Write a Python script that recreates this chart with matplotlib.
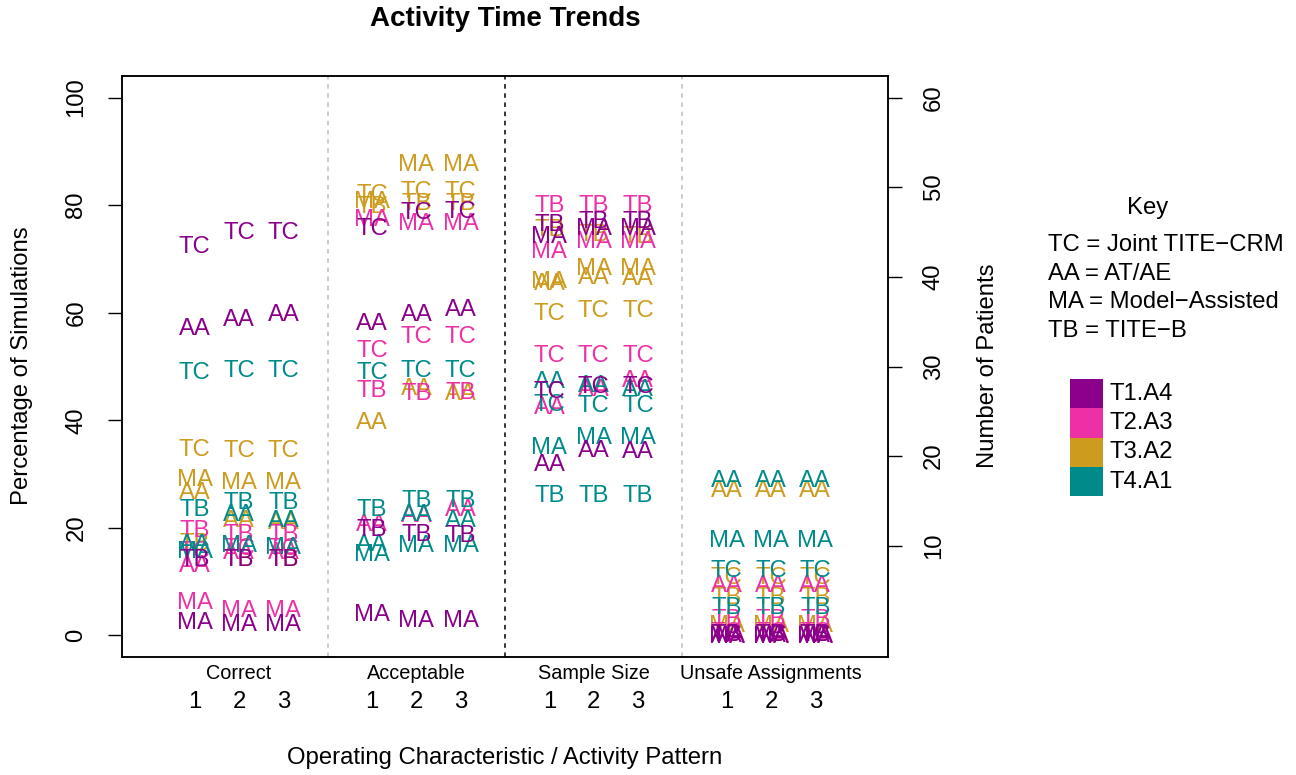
import matplotlib
matplotlib.use("Agg")
import matplotlib.pyplot as plt
from matplotlib.patches import Rectangle

plt.rcParams['font.family'] = ['Liberation Sans', 'DejaVu Sans']

# ---- data ----
methods = ["TC", "AA", "MA", "TB"]
scenarios = ["T1.A4", "T2.A3", "T3.A2", "T4.A1"]
scen_colors = ["#8B008B", "#EE30A7", "#CD9B1D", "#008B8B"]
characteristics = ["Correct", "Acceptable", "Sample Size", "Unsafe Assignments"]
patterns = [1, 2, 3]

# Correct (% of simulations), rows = TC, AA, MA, TB ; columns = pattern 1..3
correct_T1 = [[72.6, 75.2, 75.2], [57.4, 59.2, 60.0], [2.8, 2.4, 2.4], [14.5, 14.5, 14.5]]
correct_T2 = [[16.0, 16.5, 16.5], [13.4, 15.8, 15.8], [6.5, 5.0, 5.0], [19.9, 19.2, 19.2]]
correct_T3 = [[35.0, 34.8, 34.8], [27.0, 21.8, 21.4], [29.4, 28.9, 28.9], [17.5, 14.5, 14.5]]
correct_T4 = [[49.3, 49.7, 49.7], [17.3, 22.9, 21.8], [16.0, 17.1, 16.8], [23.8, 25.1, 25.1]]

# Acceptable (% of simulations)
accept_T1 = [[76.0, 79.0, 79.2], [58.3, 60.1, 60.9], [4.3, 3.2, 3.2], [20.1, 19.2, 19.0]]
accept_T2 = [[53.4, 55.9, 55.9], [21.0, 22.7, 23.8], [77.7, 76.9, 76.9], [46.0, 45.3, 45.6]]
accept_T3 = [[82.3, 82.9, 82.9], [39.9, 46.2, 45.3], [81.0, 87.9, 87.9], [80.1, 80.6, 80.6]]
accept_T4 = [[49.3, 49.7, 49.7], [17.3, 22.9, 21.8], [15.5, 17.1, 17.1], [23.8, 25.5, 25.5]]

# Sample size (number of patients)
size_T1 = [[27.4, 28.0, 28.0], [19.3, 20.9, 20.7], [44.7, 45.6, 45.6], [46.1, 46.4, 46.4]]
size_T2 = [[31.5, 31.5, 31.5], [25.7, 27.7, 28.7], [43.0, 44.2, 44.2], [48.2, 48.2, 48.2]]
size_T3 = [[36.1, 36.5, 36.5], [39.5, 40.2, 40.0], [39.7, 41.1, 41.1], [45.5, 44.9, 44.7]]
size_T4 = [[26.0, 25.9, 25.9], [28.5, 28.1, 27.7], [21.2, 22.3, 22.3], [15.8, 15.8, 15.8]]

# Unsafe assignments (% of patients)
unsafe_T1 = [[0.5, 0.5, 0.5], [0.3, 0.3, 0.3], [0.2, 0.2, 0.2], [0.6, 0.6, 0.6]]
unsafe_T2 = [[0.9, 0.9, 0.9], [9.7, 9.7, 9.7], [0.4, 0.4, 0.4], [3.4, 3.4, 3.4]]
unsafe_T3 = [[11.2, 11.2, 11.2], [27.4, 27.4, 27.4], [2.2, 2.2, 2.2], [7.4, 7.4, 7.4]]
unsafe_T4 = [[12.5, 12.5, 12.5], [29.2, 29.2, 29.2], [18.1, 18.1, 18.1], [5.6, 5.6, 5.6]]

max_patients = 60

# ---- figure ----
fig = plt.figure(figsize=(12.96, 7.75), dpi=100)
ax = fig.add_axes([122 / 1296, 1 - 657 / 775, (888 - 122) / 1296, (657 - 76) / 775])

groups = [
    [correct_T1, correct_T2, correct_T3, correct_T4],
    [accept_T1, accept_T2, accept_T3, accept_T4],
    [[[v / max_patients * 100 for v in row] for row in s] for s in
     [size_T1, size_T2, size_T3, size_T4]],
    [unsafe_T1, unsafe_T2, unsafe_T3, unsafe_T4],
]

draw_order = [2, 1, 3, 0]  # gold, pink, teal, purple
fs = 17.2
for g, data in enumerate(groups):
    base = g * 4
    for si in draw_order:
        for mi, m in enumerate(methods):
            for pi, p in enumerate(patterns):
                ax.text(base + p, data[si][mi][pi], m, color=scen_colors[si],
                        fontsize=fs, ha='center', va='center_baseline')

for xv, col in [(4, '#BEBEBE'), (8, 'black'), (12, '#BEBEBE')]:
    ax.axvline(xv, color=col, linestyle=(0, (3, 3)), linewidth=1.1)

ax.set_xlim(-0.64, 16.64)
ax.set_ylim(-4, 104)
ax.set_yticks([0, 20, 40, 60, 80, 100])
ax.set_yticklabels(["0", "20", "40", "60", "80", "100"], rotation=90, va='center',
                   fontsize=fs)
ax.tick_params(axis='y', length=10, width=1, pad=15)
ax.set_xticks([])
for sp in ax.spines.values():
    sp.set_linewidth(1.1)

for g, name in enumerate(characteristics):
    ax.text(g * 4 + 2, -7.0, name, ha='center', va='center', fontsize=14.3,
            clip_on=False)
    for p in patterns:
        ax.text(g * 4 + p, -12.3, str(p), ha='center', va='center', fontsize=fs,
                clip_on=False)

ax2 = ax.twinx()
ax2.set_ylim(-4 * max_patients / 100, 104 * max_patients / 100)
ax2.set_yticks([10, 20, 30, 40, 50, 60])
ax2.set_yticklabels(["10", "20", "30", "40", "50", "60"], rotation=90, va='center',
                    fontsize=fs)
ax2.tick_params(axis='y', length=10, width=1, pad=15)
for sp in ax2.spines.values():
    sp.set_linewidth(1.1)

fig.text(22 / 1296, 1 - 366 / 775, "Percentage of Simulations", rotation=90,
         ha='center', va='center', fontsize=fs)
fig.text(988 / 1296, 1 - 366 / 775, "Number of Patients", rotation=90,
         ha='center', va='center', fontsize=fs)
fig.text((122 + 888) / 2 / 1296, 1 - 758 / 775,
         "Operating Characteristic / Activity Pattern", ha='center', va='center',
         fontsize=fs)
fig.text((122 + 888) / 2 / 1296, 1 - 19 / 775, "Activity Time Trends", ha='center',
         va='center', fontsize=20, fontweight='bold')

# ---- key ----
fig.text(1148 / 1296, 1 - 208 / 775, "Key", ha='center', va='center', fontsize=fs)
key_lines = ["TC = Joint TITE\u2212CRM", "AA = AT/AE", "MA = Model\u2212Assisted",
             "TB = TITE\u2212B"]
for i, t in enumerate(key_lines):
    fig.text(1048 / 1296, 1 - (245 + i * 28.7) / 775, t, ha='left', va='center',
             fontsize=fs)
for i, (s, c) in enumerate(zip(scenarios, scen_colors)):
    y0 = 379 + i * 29.3
    fig.patches.append(Rectangle((1070 / 1296, 1 - (y0 + 29.3) / 775), 33 / 1296,
                                 29.3 / 775, transform=fig.transFigure,
                                 facecolor=c, edgecolor='none'))
    fig.text(1110 / 1296, 1 - (y0 + 14.6) / 775, s, ha='left', va='center',
             fontsize=fs)

fig.savefig("out.png", dpi=100)
